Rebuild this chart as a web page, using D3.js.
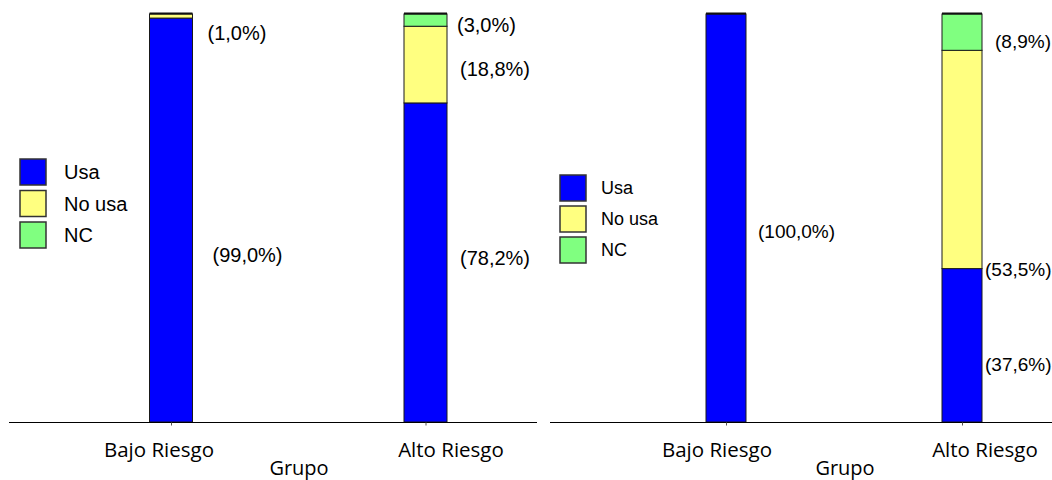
<!DOCTYPE html>
<html>
<head>
<meta charset="utf-8">
<script src="https://cdn.jsdelivr.net/npm/d3@7"></script>
<style>
  html, body { margin: 0; padding: 0; background: #fff; }
  svg { display: block; }
</style>
</head>
<body>
<svg id="chart" width="1052" height="480"></svg>
<script>
// Group categories and response series
const categories = ["Bajo Riesgo", "Alto Riesgo"];
const seriesNames = ["Usa", "No usa", "NC"];
const axisTitle = "Grupo";

// Left panel values (%)
const usaLeft = [99.0, 78.2];
const noUsaLeft = [1.0, 18.8];
const ncLeft = [0.0, 3.0];

// Right panel values (%)
const usaRight = [100.0, 37.6];
const noUsaRight = [0.0, 53.5];
const ncRight = [0.0, 8.9];

const colors = ["#0000ff", "#ffff80", "#80ff80"];

const svg = d3.select("#chart");

function buildRows(usa, noUsa, nc) {
  return categories.map((c, i) => ({ cat: c, "Usa": usa[i], "No usa": noUsa[i], "NC": nc[i] }));
}

const fmtPct = v => "(" + d3.format(".1f")(v).replace(".", ",") + "%)";

const panels = [
  {
    rows: buildRows(usaLeft, noUsaLeft, ncLeft),
    barRange: [171, 425.5], barWidth: 43,
    axisFrom: 9, axisTo: 537,
    labelRange: [159, 451], titleX: 299,
    legend: { x: 20, y: 159, step: 31.5, size: 26, textX: 64, font: 20 },
    valueFont: 20,
    // per category, per series: [dx from bar edge, dy from segment middle]
    nudge: [
      [[20, 35], [15, 17], [0, 0]],
      [[13, -4], [13, 4], [10, 5]]
    ]
  },
  {
    rows: buildRows(usaRight, noUsaRight, ncRight),
    barRange: [726, 962], barWidth: 40,
    axisFrom: 550, axisTo: 1052,
    labelRange: [717, 985], titleX: 845,
    legend: { x: 560, y: 175, step: 31, size: 26, textX: 601, font: 18 },
    valueFont: 19,
    nudge: [
      [[12, 13], [0, 0], [0, 0]],
      [[3, 19], [3, 110], [13, 9]]
    ]
  }
];

const y = d3.scaleLinear().domain([0, 100]).range([422, 14]);
const stack = d3.stack().keys(seriesNames);

panels.forEach(p => {
  const g = svg.append("g");
  const x = d3.scalePoint().domain(categories).range(p.barRange);
  const xl = d3.scalePoint().domain(categories).range(p.labelRange);
  const layers = stack(p.rows);

  // stacked bars
  layers.forEach((layer, si) => {
    g.selectAll(null)
      .data(layer)
      .join("rect")
      .attr("x", d => x(d.data.cat) - p.barWidth / 2)
      .attr("y", d => y(d[1]))
      .attr("width", p.barWidth)
      .attr("height", d => Math.max(0, y(d[0]) - y(d[1])))
      .attr("fill", colors[si])
      .attr("stroke", "#1a1a1a")
      .attr("stroke-width", 1);
  });

  // dark cap along the top of each bar
  g.selectAll(null)
    .data(p.rows)
    .join("line")
    .attr("x1", d => x(d.cat) - p.barWidth / 2)
    .attr("x2", d => x(d.cat) + p.barWidth / 2)
    .attr("y1", y(100) - 0.5).attr("y2", y(100) - 0.5)
    .attr("stroke", "#111").attr("stroke-width", 2);

  // value labels
  layers.forEach((layer, si) => {
    layer.forEach((d, ci) => {
      const v = d[1] - d[0];
      if (v <= 0) return;
      const n = p.nudge[ci][si];
      g.append("text")
        .attr("x", x(d.data.cat) + p.barWidth / 2 + n[0])
        .attr("y", y((d[0] + d[1]) / 2) + n[1])
        .attr("dominant-baseline", "central")
        .attr("font-family", "'Liberation Sans', Arial, sans-serif")
        .attr("font-size", p.valueFont)
        .attr("fill", "#000")
        .text(fmtPct(v));
    });
  });

  // x axis line
  g.append("line")
    .attr("x1", p.axisFrom).attr("x2", p.axisTo)
    .attr("y1", 422.5).attr("y2", 422.5)
    .attr("stroke", "#000").attr("stroke-width", 1);

  // ticks
  const ax = g.append("g")
    .attr("transform", "translate(0,422.5)")
    .call(d3.axisBottom(x).tickSize(3).tickFormat(""));
  ax.select(".domain").remove();
  ax.selectAll(".tick line").attr("stroke", "#555");

  // category labels
  g.selectAll(null)
    .data(categories)
    .join("text")
    .attr("x", d => xl(d))
    .attr("y", 457)
    .attr("text-anchor", "middle")
    .attr("font-family", "'Open Sans', sans-serif")
    .attr("font-size", 20.5)
    .attr("fill", "#000")
    .text(d => d);

  g.append("text")
    .attr("x", p.titleX)
    .attr("y", 475)
    .attr("text-anchor", "middle")
    .attr("font-family", "'Open Sans', sans-serif")
    .attr("font-size", 20)
    .attr("fill", "#000")
    .text(axisTitle);

  // legend
  const lg = g.append("g");
  seriesNames.forEach((s, i) => {
    const top = p.legend.y + i * p.legend.step;
    lg.append("rect")
      .attr("x", p.legend.x).attr("y", top)
      .attr("width", p.legend.size).attr("height", p.legend.size)
      .attr("fill", colors[i])
      .attr("stroke", "#333").attr("stroke-width", 1.5);
    lg.append("text")
      .attr("x", p.legend.textX)
      .attr("y", top + p.legend.size / 2)
      .attr("dominant-baseline", "central")
      .attr("font-family", "'Liberation Sans', Arial, sans-serif")
      .attr("font-size", p.legend.font)
      .attr("fill", "#000")
      .text(s);
  });
});
</script>
</body>
</html>
